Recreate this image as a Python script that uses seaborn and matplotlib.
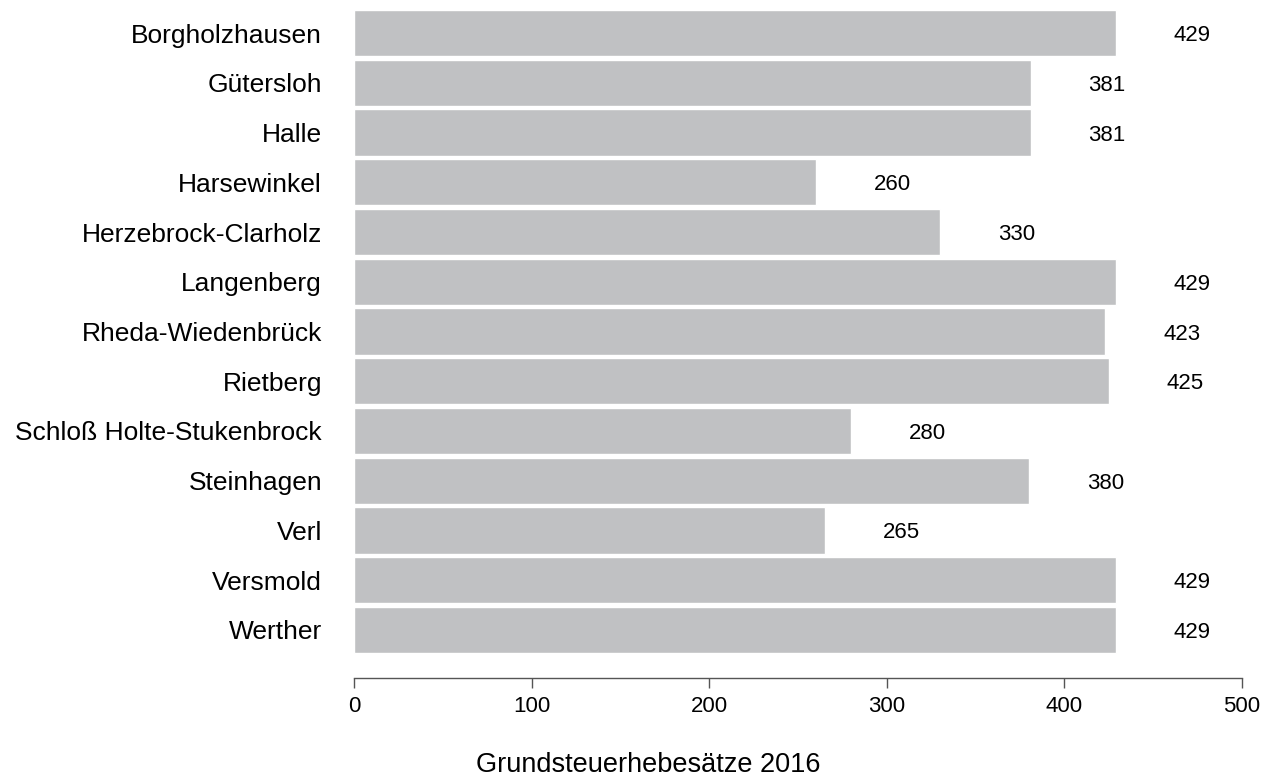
import matplotlib

matplotlib.use("Agg")

import matplotlib.pyplot as plt
import pandas as pd
import seaborn as sns

# ── Data ──────────────────────────────────────────────────────────────────────
towns = [
    "Borgholzhausen", "Gütersloh", "Halle", "Harsewinkel",
    "Herzebrock-Clarholz", "Langenberg", "Rheda-Wiedenbrück", "Rietberg",
    "Schloß Holte-Stukenbrock", "Steinhagen", "Verl", "Versmold", "Werther",
]
rates = [429, 381, 381, 260, 330, 429, 423, 425, 280, 380, 265, 429, 429]
x_ticks = [0, 100, 200, 300, 400, 500]

BAR_COLOR = "#c0c1c3"
LABEL_OFFSET = 43

sns.set_style("white")
plt.rcParams["font.family"] = ["Liberation Sans", "DejaVu Sans"]

df = pd.DataFrame({"town": towns, "rate": rates})

fig = plt.figure(figsize=(12.64, 7.76), dpi=100)
ax = fig.add_axes([354 / 1264, 98 / 776, 888 / 1264, 668 / 776])

sns.barplot(data=df, x="rate", y="town", orient="h", color=BAR_COLOR,
            saturation=1, width=0.925, ax=ax)

for i, v in enumerate(df["rate"]):
    ax.text(v + LABEL_OFFSET, i, str(v), ha="center", va="center_baseline",
            fontsize=16, color="black")

ax.set_xlim(0, 500)
ax.set_ylim(12.965, -0.4625)
ax.set_xticks(x_ticks)
ax.set_xlabel("")
ax.set_ylabel("")

for side in ["top", "right", "left"]:
    ax.spines[side].set_visible(False)
ax.spines["bottom"].set_color("#555555")
ax.spines["bottom"].set_linewidth(1.0)

ax.tick_params(axis="x", bottom=True, direction="out", length=7, width=1,
               color="#555555", labelcolor="black", labelsize=16, pad=6)
ax.tick_params(axis="y", left=False, length=0, labelcolor="black",
               labelsize=19, pad=23)

fig.text(648 / 1264, 1 - 765 / 776, "Grundsteuerhebesätze 2016",
         ha="center", va="center", fontsize=19.5, color="black")

fig.savefig("out.png", dpi=100)
